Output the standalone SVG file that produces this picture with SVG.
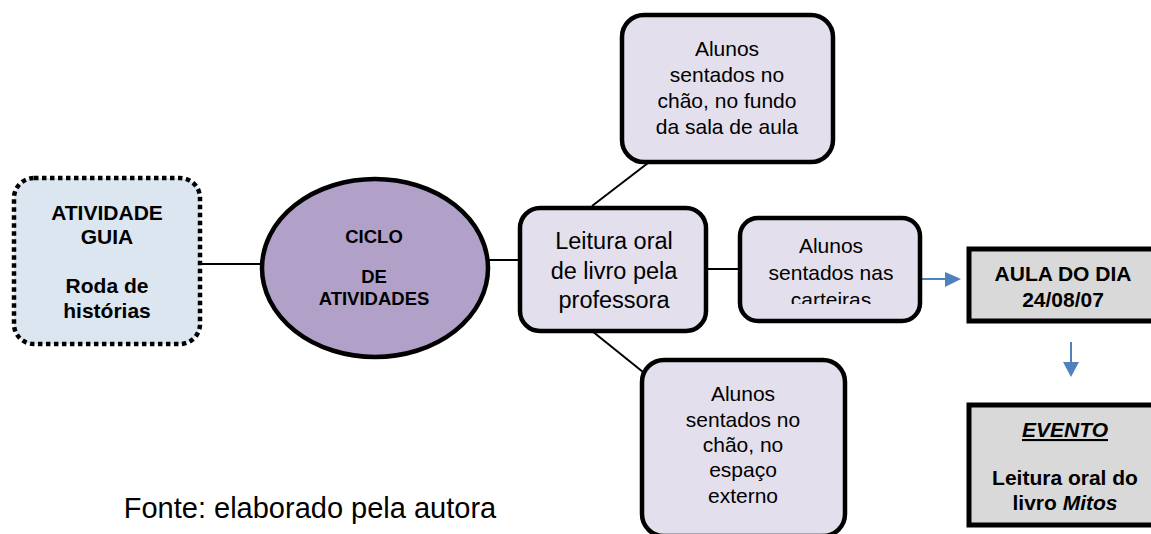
<svg xmlns="http://www.w3.org/2000/svg" width="1151" height="534" viewBox="0 0 1151 534">
<defs>
<style>
text{font-family:"Liberation Sans",Arial,sans-serif;fill:#000;text-anchor:middle}
.b{font-weight:bold}
.box{fill:#E4DFEC;stroke:#000;stroke-width:4.5}
.gray{fill:#D9D9D9;stroke:#000;stroke-width:5}
.conn{stroke:#000;stroke-width:2;fill:none}
.blue{stroke:#4F81BD;stroke-width:2;fill:none}
</style>
<clipPath id="clipCart"><rect x="740" y="218" width="180" height="86"/></clipPath>
</defs>
<rect width="1151" height="534" fill="#fff"/>
<g id="connectors">
<line class="conn" x1="200" y1="264" x2="262" y2="264"/>
<line class="conn" x1="489" y1="260" x2="520" y2="260"/>
<line class="conn" x1="706" y1="269" x2="740" y2="269"/>
<line class="conn" x1="648" y1="163" x2="592" y2="206"/>
<line class="conn" x1="592" y1="331" x2="643" y2="372"/>
<line class="blue" x1="920" y1="279" x2="947" y2="279"/>
<polygon points="945,272 961,279 945,287" fill="#4F81BD"/>
<line class="blue" x1="1071" y1="342" x2="1071" y2="364"/>
<polygon points="1063,362 1079,362 1071,377" fill="#4F81BD"/>
</g>
<g id="guia">
<rect x="14" y="178" width="186" height="166" rx="20" fill="#DCE6F1" stroke="#000" stroke-width="4.5" stroke-dasharray="4.5 3.5"/>
<text class="b" font-size="21" x="107" y="220">ATIVIDADE</text>
<text class="b" font-size="21" x="107" y="244">GUIA</text>
<text class="b" font-size="21" x="107" y="293">Roda de</text>
<text class="b" font-size="21" x="107" y="318">histórias</text>
</g>
<g id="ciclo">
<ellipse cx="375" cy="268" rx="113" ry="89" fill="#B1A0C7" stroke="#000" stroke-width="4.5"/>
<text class="b" font-size="18.5" x="374" y="243">CICLO</text>
<text class="b" font-size="18.5" x="374" y="283">DE</text>
<text class="b" font-size="18.5" x="374" y="305">ATIVIDADES</text>
</g>
<g id="leitura">
<rect class="box" x="520" y="208" width="186" height="123" rx="20"/>
<text font-size="23.5" x="614" y="249">Leitura oral</text>
<text font-size="23.5" x="614" y="279">de livro pela</text>
<text font-size="23.5" x="614" y="308">professora</text>
</g>
<g id="fundo">
<rect class="box" x="622" y="15" width="211" height="147" rx="22"/>
<text font-size="21" x="727" y="56">Alunos</text>
<text font-size="21" x="727" y="82">sentados no</text>
<text font-size="21" x="727" y="108">chão, no fundo</text>
<text font-size="21" x="727" y="134">da sala de aula</text>
</g>
<g id="carteiras">
<rect class="box" x="740" y="218" width="180" height="103" rx="18"/>
<text font-size="21" x="831" y="253">Alunos</text>
<text font-size="21" x="831" y="280">sentados nas</text>
<text font-size="21" x="831" y="307" clip-path="url(#clipCart)">carteiras</text>
</g>
<g id="externo">
<rect class="box" x="642" y="360" width="203" height="176" rx="22"/>
<text font-size="21" x="743" y="401">Alunos</text>
<text font-size="21" x="743" y="427">sentados no</text>
<text font-size="21" x="743" y="452">chão, no</text>
<text font-size="21" x="743" y="477">espaço</text>
<text font-size="21" x="743" y="503">externo</text>
</g>
<g id="aula">
<rect class="gray" x="969" y="249" width="195" height="72"/>
<text class="b" font-size="21" x="1063" y="281">AULA DO DIA</text>
<text class="b" font-size="21" x="1063" y="307">24/08/07</text>
</g>
<g id="evento">
<rect class="gray" x="969" y="405" width="195" height="120"/>
<text class="b" font-size="21" x="1065" y="437" font-style="italic" text-decoration="underline">EVENTO</text>
<text class="b" font-size="21" x="1065" y="485">Leitura oral do</text>
<text class="b" font-size="21" x="1065" y="510">livro <tspan font-style="italic">Mitos</tspan></text>
</g>
<text font-size="29" x="310" y="518">Fonte: elaborado pela autora</text>
</svg>
